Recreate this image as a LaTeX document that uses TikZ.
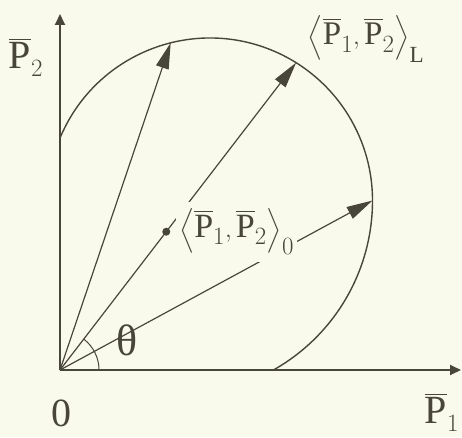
\documentclass[tikz,border=0pt]{standalone}
\usepackage{amsmath}
\usepackage{exscale}
\usepackage{fontspec}
\setmainfont{Liberation Serif}
\usetikzlibrary{positioning, arrows.meta, calc}
\definecolor{papier}{RGB}{250,250,236}
\definecolor{tinte}{RGB}{72,70,58}

\begin{document}
\begin{tikzpicture}[x=1pt, y=1pt,
        achse/.style={draw=tinte, line width=1.8pt, -{Triangle[length=11pt, width=10pt]}},
        vek/.style={draw=tinte, line width=1.2pt, -{Triangle[length=26pt, width=13pt]}},
        rand/.style={draw=tinte, line width=1.4pt},
        punkt/.style={circle, fill=tinte, inner sep=0pt, minimum size=8pt},
        txt/.style={text=tinte, inner sep=1pt, font=\fontsize{40}{44}\selectfont},
        mittel/.style={text=tinte, fill=papier, inner xsep=3pt, inner ysep=7pt, font=\fontsize{34}{38}\selectfont}
    ]

    % Hintergrund
    \fill[papier] (0,0) rectangle (462,437);
    \useasboundingbox (0,0) rectangle (462,437);

    % Achsen
    \coordinate (O) at (60,67);
    \coordinate (ytip) at (60,423);
    \coordinate (xtip) at (461,67);
    \draw[achse] (O) -- (ytip);
    \draw[achse] (O) -- (xtip);

    % Rand der Menge (zwei Kreisboegen)
    \coordinate (Mo) at (210,236.5);
    \coordinate (A) at ($(Mo)+(157.4:162.5)$);
    \coordinate (R) at ($(Mo)+(0:162.5)$);
    \coordinate (T1) at ($(Mo)+(104:162.5)$);
    \coordinate (T2) at ($(Mo)+(58:162.5)$);
    \draw[rand] (A) arc[start angle=157.4, end angle=0, radius=162.5pt]
        arc[start angle=0, end angle=-61, radius=194.5pt] coordinate (B);

    % Vektoren
    \draw[vek] (O) -- (T1);
    \draw[vek] (O) -- node[punkt, pos=0.45] (M) {} (T2);
    \draw[vek] (O) -- (R);

    % Winkel
    \draw[tinte, line width=1pt] ([shift={(0:39pt)}]O) arc[start angle=0, end angle=52.6, radius=39pt];

    % Beschriftungen
    \node[mittel, right=5pt of M] (L0) {$\left\langle \overline{\mathrm{P}}_1, \overline{\mathrm{P}}_2 \right\rangle_0$};
    \node[txt, font=\fontsize{33}{37}\selectfont] (LL) at (366,398) {$\left\langle \overline{\mathrm{P}}_1, \overline{\mathrm{P}}_2 \right\rangle_{\mathrm{L}}$};
    \node[txt] (p2) at (26,380) {$\overline{\mathrm{P}}_2$};
    \node[txt] (p1) at (442,25) {$\overline{\mathrm{P}}_1$};
    \node[txt] (null) at (61,24) {0};
    \node[txt, font=\fontsize{44}{48}\selectfont] (theta) at (127,97) {θ};

\end{tikzpicture}
\end{document}
